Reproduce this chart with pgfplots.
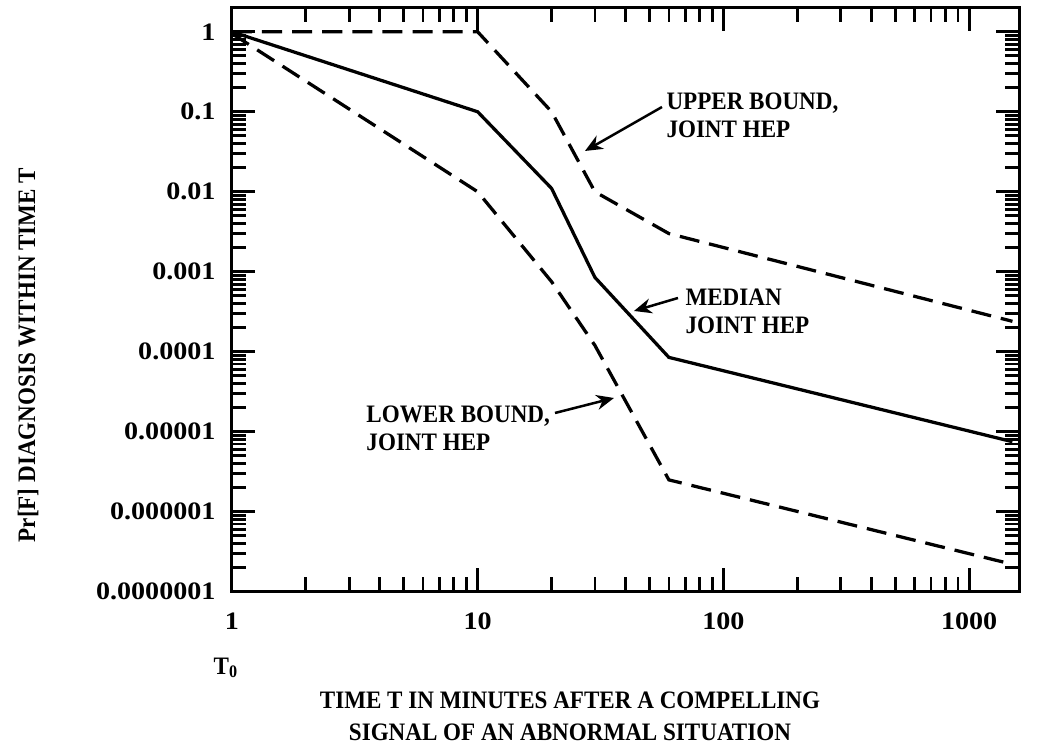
\documentclass[border=0pt]{standalone}
\usepackage{fontspec}
\setmainfont{Liberation Serif}[FakeStretch=0.92]
\newfontfamily\tickfont{Liberation Serif}[FakeStretch=1.12]
\usepackage{pgfplots}
\pgfplotsset{compat=1.18}
\usetikzlibrary{arrows.meta}

\newcommand{\lbl}{\fontsize{10}{11.2}\selectfont\bfseries}

\begin{document}
\begin{tikzpicture}
\begin{axis}[
  xmode=log, ymode=log,
  scale only axis,
  width=11.03cm, height=8.18cm,
  xmin=1, xmax=1600, ymin=1e-7, ymax=2,
  axis line style={line width=1.2pt},
  tick style={line width=1.1pt, black},
  tick align=inside,
  major tick length=0.33cm, minor tick length=0.2cm,
  xticklabels={1,10,100,1000},
  yticklabels={,0.0000001,0.000001,0.00001,0.0001,0.001,0.01,0.1,1},
  /pgf/number format/assume math mode=true,
  every tick label/.append style={font=\tickfont\fontsize{10}{12}\selectfont\bfseries},
  xticklabel style={yshift=-5pt},
  yticklabel style={xshift=-3pt},
  clip=false,
]
\addplot[black, line width=1.3pt, dash pattern=on 8pt off 4pt] coordinates {
  (1,1) (10,1) (20,0.1) (30,0.01) (60,0.003) (1500,0.00024)};
\addplot[black, line width=1.3pt] coordinates {
  (1,1) (10,0.1) (20,0.011) (30,0.00085) (60,0.000085) (1500,0.0000075)};
\addplot[black, line width=1.3pt, dash pattern=on 8pt off 4pt] coordinates {
  (1,0.95) (10,0.01) (20,0.00075) (30,0.00012) (60,0.0000025) (1500,0.00000022)};
\end{axis}

\pgfresetboundingbox
\begin{scope}[shift={(-3.248cm,8.288cm)}, x=0.014cm, y=-0.014cm]
  \path[use as bounding box] (0,0) rectangle (1037,749);
  % curve labels and arrows
  \node[anchor=north west, inner sep=0pt, align=left, font=\lbl] at (666,92) {UPPER BOUND,\\JOINT HEP};
  \draw[line width=1pt, -{Stealth[length=7pt,width=6pt]}] (662,107) -- (585,151);
  \node[anchor=north west, inner sep=0pt, align=left, font=\lbl] at (685,288) {MEDIAN\\JOINT HEP};
  \draw[line width=1pt, -{Stealth[length=7pt,width=6pt]}] (678,298) -- (634,311);
  \node[anchor=north west, inner sep=0pt, align=left, font=\lbl] at (366,405) {LOWER BOUND,\\JOINT HEP};
  \draw[line width=1pt, -{Stealth[length=7pt,width=6pt]}] (555,413) -- (614,398);
  % axis labels
  \node[font=\lbl] at (226,668) {T\textsubscript{0}};
  \node[font=\fontsize{10}{12.8}\selectfont\bfseries, align=center] at (570,716) {TIME T IN MINUTES AFTER A COMPELLING\\SIGNAL OF AN ABNORMAL SITUATION};
  \node[font=\lbl, rotate=90] at (28,355) {Pr[F] DIAGNOSIS WITHIN TIME T};
\end{scope}
\end{tikzpicture}
\end{document}
